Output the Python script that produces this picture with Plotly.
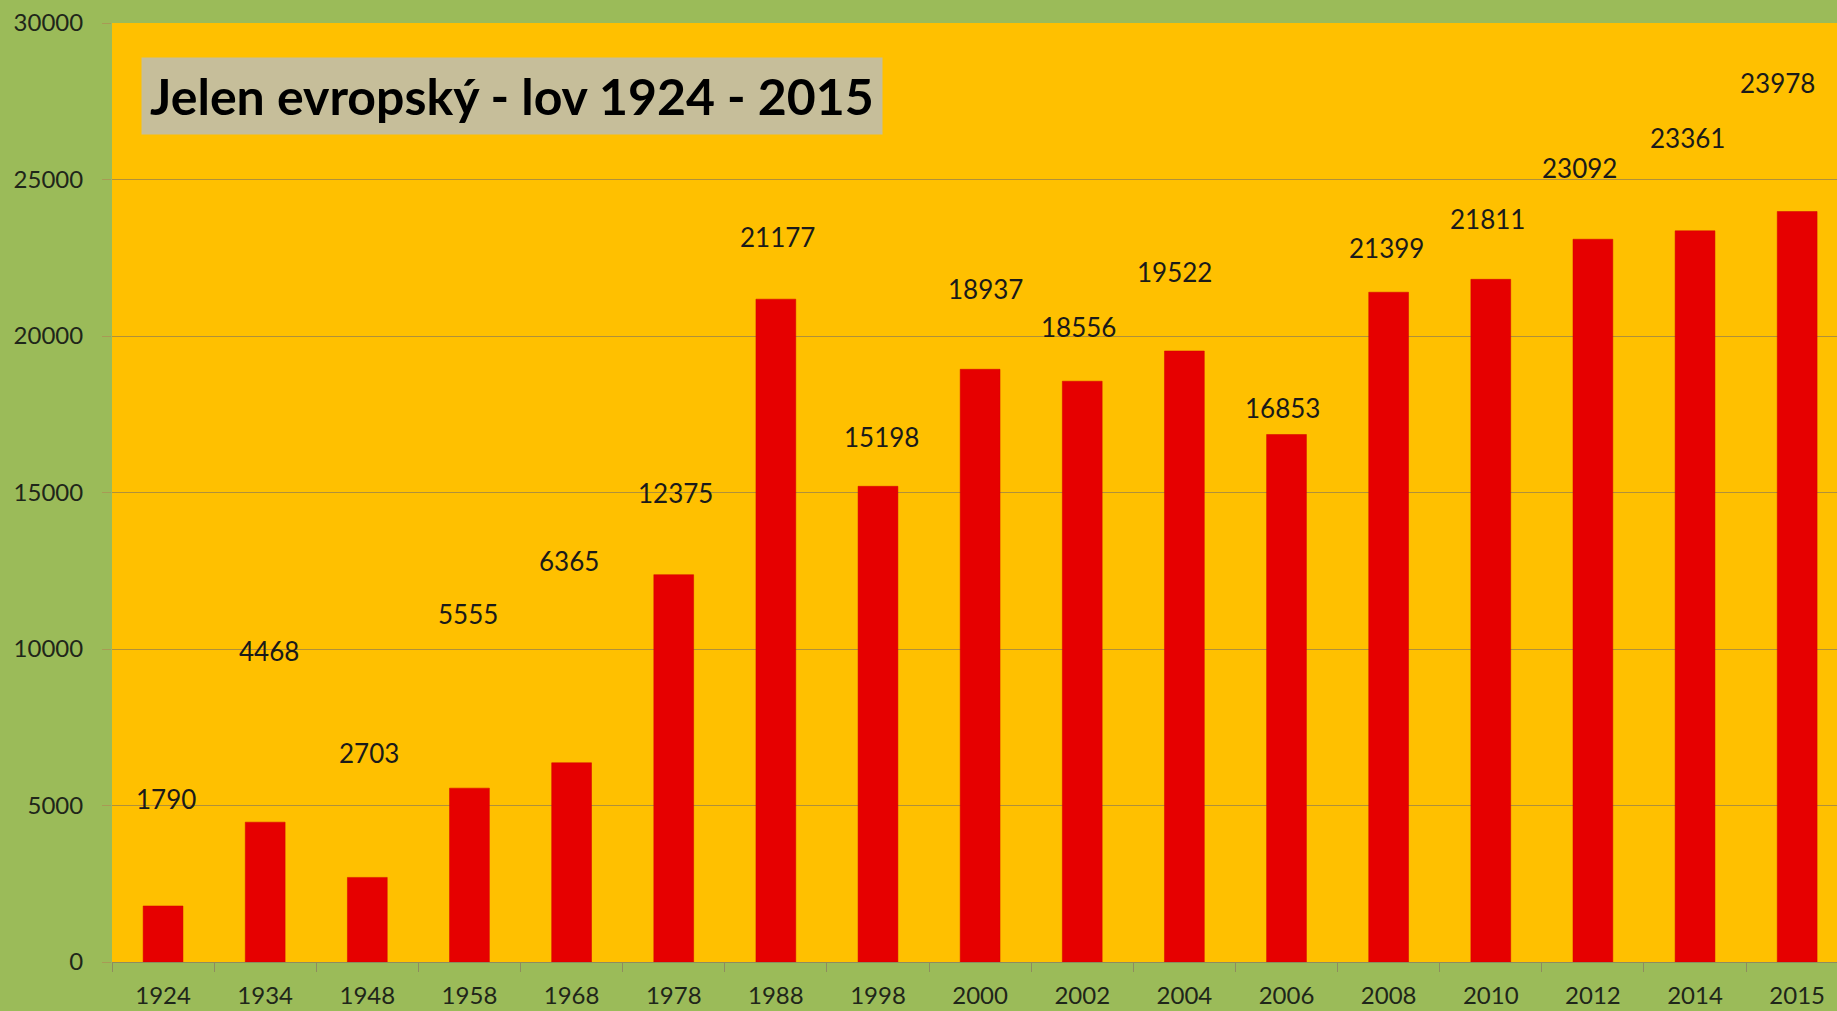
import plotly.graph_objects as go

years = ["1924", "1934", "1948", "1958", "1968", "1978", "1988", "1998", "2000",
         "2002", "2004", "2006", "2008", "2010", "2012", "2014", "2015"]
harvest = [1790, 4468, 2703, 5555, 6365, 12375, 21177, 15198, 18937,
           18556, 19522, 16853, 21399, 21811, 23092, 23361, 23978]
y_ticks = [0, 5000, 10000, 15000, 20000, 25000, 30000]
title_text = "Jelen evropský - lov 1924 - 2015"

# label placement (pixel offsets from bar top, style only)
label_yshift = [107, 171, 124, 174, 202, 82, 62, 49, 80, 54, 79, 27, 44, 60, 71, 93, 128]
label_xshift = [3, 4, 2, -1, -3, 2, 2, 4, 5, -4, -10, -4, -2, -3, -13, -8, -20]

FONT = "Lato"

fig = go.Figure()
fig.add_trace(go.Bar(
    x=years, y=harvest, width=0.39,
    marker=dict(color="#E60000", line=dict(color="#D00000", width=0.5)),
    hoverinfo="x+y",
))

annotations = []
for i, (v, dy, dx) in enumerate(zip(harvest, label_yshift, label_xshift)):
    annotations.append(dict(xref="x", yref="y", x=i, y=v, text=str(v), showarrow=False,
                            yshift=dy, xshift=dx, yanchor="middle", xanchor="center",
                            font=dict(family=FONT, size=26, color="#1a1a1a")))

annotations.append(dict(xref="paper", yref="paper", x=0.232, y=0.922,
                        text="<b>" + title_text + "</b>", showarrow=False,
                        width=738, height=74, bgcolor="#C6BE9A",
                        xanchor="center", yanchor="middle", align="center",
                        font=dict(family=FONT, size=50, color="#000000")))

fig.update_layout(
    width=1837, height=1011, autosize=False,
    margin=dict(l=112, r=0, t=23, b=49, pad=0, autoexpand=False),
    paper_bgcolor="#9BBB59", plot_bgcolor="#FFC000",
    showlegend=False, bargap=0.61,
    font=dict(family=FONT, color="#1F261A"),
    annotations=annotations,
)
fig.update_xaxes(type="category", range=[-0.5, 16.39], tickson="boundaries",
                 ticks="outside", ticklen=9, tickcolor="#8E8C5E", tickwidth=1,
                 showline=True, linecolor="#8E8C5E", linewidth=1, automargin=False,
                 showgrid=False, tickfont=dict(family=FONT, size=24, color="#1F261A"),
                 ticklabelstandoff=12)
fig.update_yaxes(range=[0, 30000], tickvals=y_ticks, tickformat="d", automargin=False,
                 showgrid=True, gridcolor="#B0903A", gridwidth=1, zeroline=False,
                 ticks="outside", ticklen=9, tickcolor="#A89A55",
                 tickfont=dict(family=FONT, size=24, color="#1F261A"),
                 ticklabelstandoff=14, showline=False)

fig.write_html("out.html", config={"displayModeBar": False},
               post_script="document.body.style.margin='0px';document.body.style.overflow='hidden';")
